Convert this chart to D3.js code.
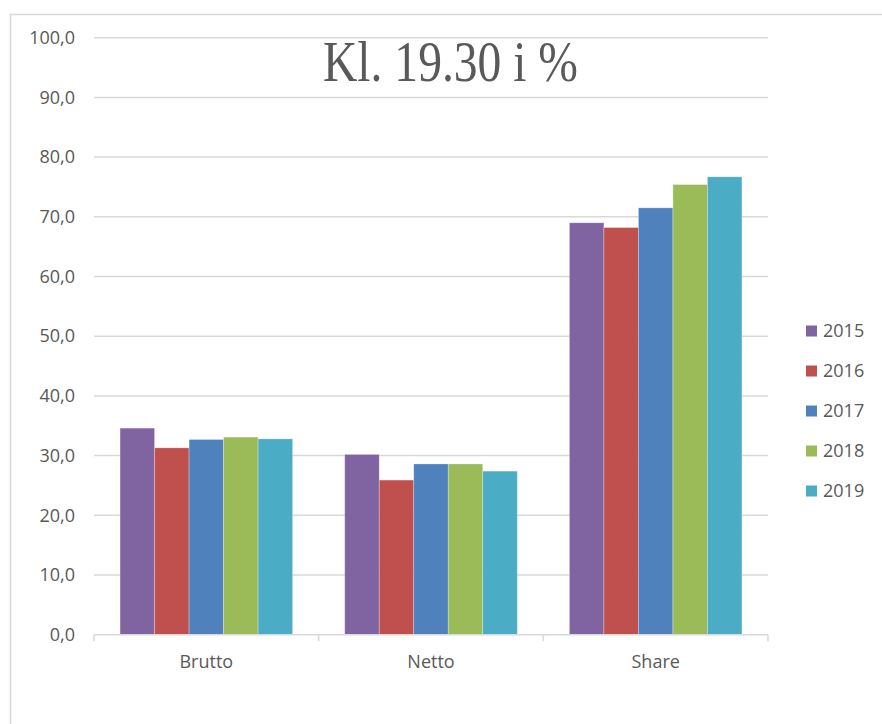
<!DOCTYPE html>
<html>
<head>
<meta charset="utf-8">
<script src="https://cdn.jsdelivr.net/npm/d3@7"></script>
<style>
  body { margin: 0; background: #fff; }
  svg { display: block; }
</style>
</head>
<body>
<div id="container"></div>
<script>
// data
const categories = ['Brutto', 'Netto', 'Share'];
const years = ['2015', '2016', '2017', '2018', '2019'];
const values2015 = [34.6, 30.2, 69.0];
const values2016 = [31.3, 25.9, 68.2];
const values2017 = [32.7, 28.6, 71.5];
const values2018 = [33.1, 28.6, 75.4];
const values2019 = [32.8, 27.4, 76.7];
const yTicks = [0, 10, 20, 30, 40, 50, 60, 70, 80, 90, 100];
const colors = ['#8064A2', '#C0504D', '#4F81BD', '#9BBB59', '#4BACC6'];

const series = [values2015, values2016, values2017, values2018, values2019];

const width = 882, height = 724;
const plot = { left: 94, right: 768, top: 37.7, bottom: 634.7 };
const labelFont = "'Open Sans', sans-serif";
const grey = '#595959';

const svg = d3.select('#container')
  .append('svg')
  .attr('width', width)
  .attr('height', height);

// chart frame
svg.append('rect')
  .attr('x', 10.5)
  .attr('y', 14.5)
  .attr('width', 900)
  .attr('height', 740)
  .attr('fill', '#fff')
  .attr('stroke', '#d9d9d9')
  .attr('stroke-width', 1.5);

// scales
const x0 = d3.scaleBand()
  .domain(categories)
  .range([plot.left, plot.right])
  .paddingInner(0)
  .paddingOuter(0);
const bandInner = 0.768; // share of band taken by the bars (gap ~150%)
const x1 = d3.scaleBand()
  .domain(years)
  .range([0, x0.bandwidth() * bandInner]);
const y = d3.scaleLinear()
  .domain([0, 100])
  .range([plot.bottom, plot.top]);

// gridlines
svg.append('g')
  .selectAll('line')
  .data(yTicks.filter(d => d > 0))
  .join('line')
  .attr('x1', plot.left)
  .attr('x2', plot.right)
  .attr('y1', d => y(d))
  .attr('y2', d => y(d))
  .attr('stroke', '#d9d9d9')
  .attr('stroke-width', 1.5);

// y axis labels
const yAxis = svg.append('g')
  .attr('transform', `translate(${plot.left},0)`)
  .call(d3.axisLeft(y).tickValues(yTicks).tickSize(0).tickPadding(19)
    .tickFormat(d => d.toFixed(1).replace('.', ',')));
yAxis.select('.domain').remove();
yAxis.selectAll('text')
  .attr('font-family', labelFont)
  .attr('font-size', '18px')
  .attr('fill', grey);

// bars
const groups = svg.append('g')
  .selectAll('g')
  .data(categories)
  .join('g')
  .attr('transform', d => `translate(${x0(d) + x0.bandwidth() * (1 - bandInner) / 2},0)`);

groups.selectAll('rect')
  .data((c, i) => years.map((yr, j) => ({ year: yr, value: series[j][i], color: colors[j] })))
  .join('rect')
  .attr('x', d => x1(d.year))
  .attr('y', d => y(d.value))
  .attr('width', x1.bandwidth())
  .attr('height', d => y(0) - y(d.value))
  .attr('fill', d => d.color)
  .attr('stroke', '#ffffff')
  .attr('stroke-opacity', 0.35)
  .attr('stroke-width', 0.8);

// x axis
const xAxis = svg.append('g')
  .attr('transform', `translate(0,${plot.bottom})`)
  .call(d3.axisBottom(x0).tickSize(0).tickPadding(21));
xAxis.select('.domain')
  .attr('stroke', '#d9d9d9')
  .attr('stroke-width', 1.5)
  .attr('d', `M${plot.left},0H${plot.right}`);
xAxis.selectAll('text')
  .attr('font-family', labelFont)
  .attr('font-size', '18px')
  .attr('fill', grey);
// boundary tick marks
xAxis.append('g')
  .selectAll('line')
  .data(d3.range(categories.length + 1))
  .join('line')
  .attr('x1', i => plot.left + i * x0.bandwidth())
  .attr('x2', i => plot.left + i * x0.bandwidth())
  .attr('y1', 0)
  .attr('y2', 6.5)
  .attr('stroke', '#d9d9d9')
  .attr('stroke-width', 1.5);

// title
svg.append('text')
  .attr('x', 450.5)
  .attr('y', 80.5)
  .attr('text-anchor', 'middle')
  .attr('font-family', "'Liberation Serif', serif")
  .attr('font-size', '56px')
  .attr('textLength', 255)
  .attr('lengthAdjust', 'spacingAndGlyphs')
  .attr('fill', grey)
  .text('Kl. 19.30 i %');

// legend
const legend = svg.append('g')
  .selectAll('g')
  .data(years)
  .join('g')
  .attr('transform', (d, i) => `translate(806,${331 + i * 40})`);
legend.append('rect')
  .attr('x', 0)
  .attr('y', -5.5)
  .attr('width', 11)
  .attr('height', 11)
  .attr('fill', (d, i) => colors[i]);
legend.append('text')
  .attr('x', 17)
  .attr('y', 0)
  .attr('dy', '0.36em')
  .attr('font-family', labelFont)
  .attr('font-size', '18px')
  .attr('fill', grey)
  .text(d => d);
</script>
</body>
</html>
